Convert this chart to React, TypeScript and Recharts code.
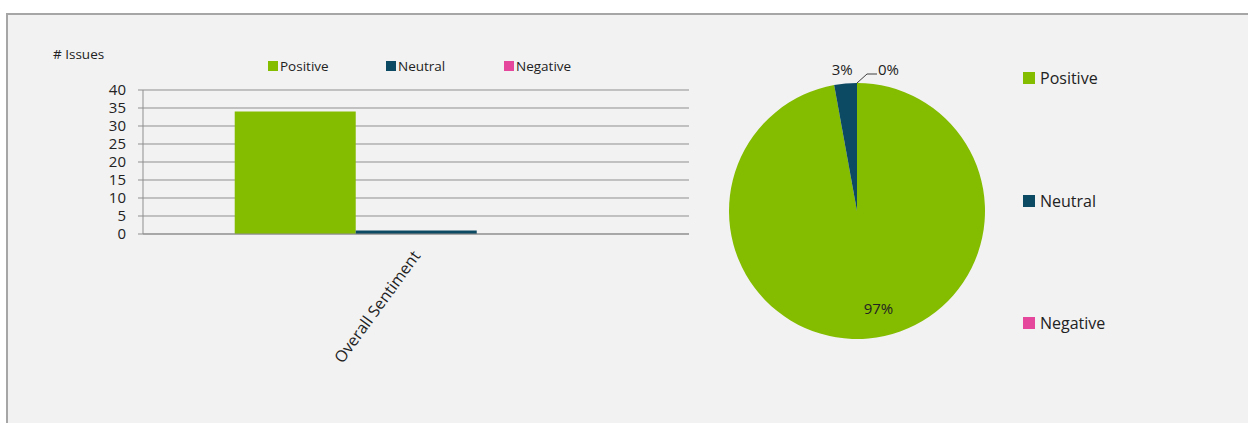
import React from 'react';
import { BarChart, Bar, XAxis, YAxis, CartesianGrid, PieChart, Pie, Cell } from 'recharts';

const categories = ['Overall Sentiment'];
const seriesNames = ['Positive', 'Neutral', 'Negative'];
const positive = [34];
const neutral = [1];
const negative = [0];
const yTicks = [0, 5, 10, 15, 20, 25, 30, 35, 40];
const colors = ['#84bc00', '#0c4a63', '#e4479c'];

const FONT = '"Open Sans", sans-serif';
const TEXT = '#222';
const GRID = '#8f8f8f';
const RAD = Math.PI / 180;

const barData = categories.map((name, i) => ({
    name,
    Positive: positive[i],
    Neutral: neutral[i],
    Negative: negative[i],
}));

const seriesValues = [positive, neutral, negative];
const pieData = seriesNames.map((name, i) => ({
    name,
    value: seriesValues[i].reduce((a, b) => a + b, 0),
}));

function CategoryTick({ x, y, payload }: any) {
    const tx = x - 6;
    const ty = y + 6;
    return (
        <text
            x={tx}
            y={ty}
            transform={`rotate(-54 ${tx} ${ty})`}
            textAnchor="end"
            dominantBaseline="hanging"
            fontSize={16}
            fontFamily={FONT}
            fill={TEXT}
        >
            {payload.value}
        </text>
    );
}

function PieLabel({ cx, cy, midAngle, outerRadius, percent, index }: any) {
    const txt = `${Math.round(percent * 100)}%`;
    const cos = Math.cos(-midAngle * RAD);
    const sin = Math.sin(-midAngle * RAD);
    const common = { fontSize: 15, fontFamily: FONT, fill: TEXT };
    if (index === 0) {
        const r = outerRadius * 0.76;
        return (
            <text x={cx + r * cos - 2} y={cy + r * sin} textAnchor="start" dominantBaseline="central" {...common}>
                {txt}
            </text>
        );
    }
    if (index === 1) {
        const r = outerRadius + 15;
        return (
            <text x={cx + r * cos - 2} y={cy + r * sin} textAnchor="middle" dominantBaseline="central" {...common}>
                {txt}
            </text>
        );
    }
    const ex = cx + outerRadius * cos;
    const ey = cy + outerRadius * sin;
    return (
        <g>
            <path d={`M${ex},${ey} L${ex + 10},${ey - 9} L${ex + 20},${ey - 9}`} stroke="#404040" fill="none" strokeWidth={1} />
            <text x={ex + 21} y={ey - 14} textAnchor="start" dominantBaseline="central" {...common}>
                {txt}
            </text>
        </g>
    );
}

export default function App() {
    return (
        <div style={{ position: 'absolute', left: 0, top: 0, width: 1248, height: 423, background: '#fff', overflow: 'hidden', fontFamily: FONT }}>
            <div style={{ position: 'absolute', left: 6, top: 13, width: 1270, height: 440, border: '2px solid #a6a6a6', background: '#f2f2f2' }} />

            <div style={{ position: 'absolute', left: 53, top: 45, fontSize: 13.5, color: TEXT }}># Issues</div>

            <div style={{ position: 'absolute', left: 268, top: 57, display: 'flex' }}>
                {seriesNames.map((n, i) => (
                    <div key={n} style={{ width: 118, display: 'flex', alignItems: 'center', fontSize: 13.5, color: TEXT }}>
                        <span style={{ width: 10, height: 10, background: colors[i], marginRight: 2, display: 'inline-block' }} />
                        {n}
                    </div>
                ))}
            </div>

            <div style={{ position: 'absolute', left: 0, top: 0 }}>
                <BarChart
                    width={700}
                    height={423}
                    data={barData}
                    margin={{ top: 90, right: 11, bottom: 0, left: 0 }}
                    barCategoryGap="16.8%"
                    barGap={0}
                >
                    <CartesianGrid vertical={false} stroke={GRID} />
                    <XAxis
                        dataKey="name"
                        height={189}
                        axisLine={{ stroke: GRID }}
                        tickLine={false}
                        tick={<CategoryTick />}
                        interval={0}
                    />
                    <YAxis
                        width={143}
                        domain={[0, 40]}
                        ticks={yTicks}
                        interval={0}
                        axisLine={{ stroke: GRID }}
                        tickLine={{ stroke: GRID }}
                        tickSize={5}
                        tickMargin={12}
                        tick={{ fill: TEXT, fontSize: 15, fontFamily: FONT }}
                    />
                    {seriesNames.map((n, i) => (
                        <Bar key={n} dataKey={n} fill={colors[i]} isAnimationActive={false} />
                    ))}
                </BarChart>
            </div>

            <div style={{ position: 'absolute', left: 700, top: 0 }}>
                <PieChart width={548} height={423} margin={{ top: 0, right: 0, bottom: 0, left: 0 }}>
                    <Pie
                        data={pieData}
                        dataKey="value"
                        nameKey="name"
                        cx={157}
                        cy={211}
                        outerRadius={128}
                        startAngle={90}
                        endAngle={-270}
                        stroke="none"
                        label={PieLabel}
                        labelLine={false}
                        isAnimationActive={false}
                    >
                        {pieData.map((d, i) => (
                            <Cell key={d.name} fill={colors[i]} />
                        ))}
                    </Pie>
                </PieChart>
            </div>

            {seriesNames.map((n, i) => (
                <div
                    key={n}
                    style={{ position: 'absolute', left: 1023, top: 67 + i * 122.5, display: 'flex', alignItems: 'center', fontSize: 16, color: TEXT }}
                >
                    <span style={{ width: 12, height: 12, background: colors[i], marginRight: 5, display: 'inline-block' }} />
                    {n}
                </div>
            ))}
        </div>
    );
}
